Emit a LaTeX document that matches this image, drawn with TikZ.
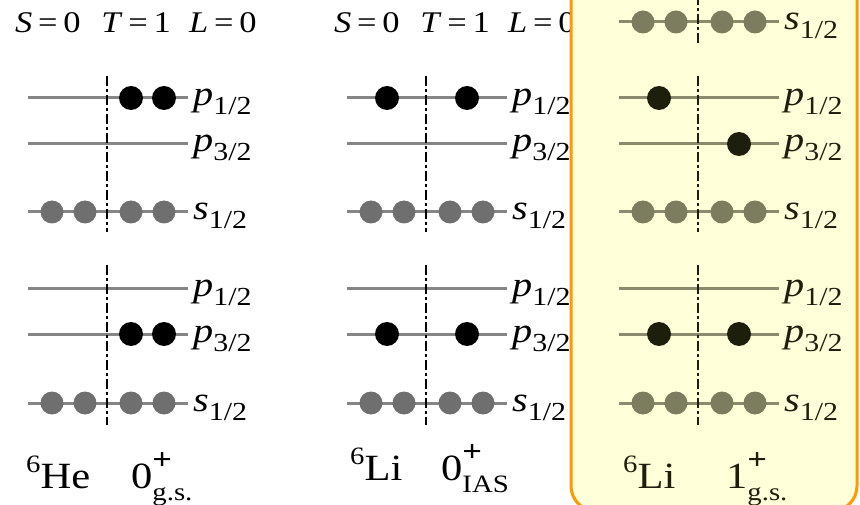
\documentclass[tikz,border=0pt]{standalone}
\usepackage{fontspec}
\setmainfont{Liberation Serif}
\usetikzlibrary{positioning}
\definecolor{Level}{HTML}{858585}
\definecolor{Core}{HTML}{6F6F6F}
\definecolor{Pale}{HTML}{FFFFD9}
\definecolor{Frame}{HTML}{FF9900}
\definecolor{OLevel}{HTML}{8A8A6C}
\definecolor{OCore}{HTML}{7C7C5E}
\definecolor{OVal}{HTML}{1E1E0C}
\newcommand{\wide}[1]{\scalebox{1.15}[1]{#1}}
\newcommand{\orbital}[2]{\wide{\textit{#1}\raisebox{-9pt}{\fontsize{26}{26}\selectfont #2}}}
\newcommand{\nucl}[2]{\wide{\raisebox{16pt}{\fontsize{25}{25}\selectfont #1}#2}}
\newcommand{\spinstate}[3]{\wide{#1\rlap{\raisebox{19pt}{\fontsize{30}{30}\selectfont\bfseries #2}}\raisebox{-12pt}{\fontsize{25}{25}\selectfont #3}}}
\newcommand{\stl}{\wide{\textit{S}\,=\,0\hskip18pt\textit{T}\,=\,1\hskip16pt\textit{L}\,=\,0}}
% one level: split x, y, orbital label, node name
\newcommand{\shell}[4]{\draw[level] (#1-79,#2) -- (#1+81,#2);
  \node[orb] (#4) at (#1+86,#2+8) {#3};}
% four filled s-shell dots
\newcommand{\sfill}[2]{\foreach \dx in {-55,-22,24,57} \fill[core] (#1+\dx,#2) circle (11.5);}

\begin{document}
\begin{tikzpicture}[x=1pt,y=-1pt,
  level/.style={draw=Level,line width=3pt},
  split/.style={draw=black,line width=2.8pt,dash pattern=on 10pt off 3pt on 3pt off 3pt},
  core/.style={fill=Core},
  val/.style={fill=black},
  orb/.style={anchor=base west,inner sep=0pt,font=\fontsize{35}{35}\selectfont},
  quantum/.style={anchor=base west,inner sep=0pt,font=\fontsize{30}{30}\selectfont},
  nucleus/.style={anchor=base west,inner sep=0pt,font=\fontsize{37}{37}\selectfont}]
\useasboundingbox (0,0) rectangle (860,505);
\clip (0,0) rectangle (860,505);

% 6He ground state
\node[quantum] (he-stl) at (15,33) {\stl};
\shell{107}{98}{\orbital{p}{1/2}}{he-p1}
\shell{107}{144}{\orbital{p}{3/2}}{he-p3}
\shell{107}{212}{\orbital{s}{1/2}}{he-s1}
\shell{107}{289}{\orbital{p}{1/2}}{he-p1b}
\shell{107}{334}{\orbital{p}{3/2}}{he-p3b}
\shell{107}{403}{\orbital{s}{1/2}}{he-s1b}
\draw[split] (107,76) -- (107,232);
\draw[split] (107,265) -- (107,425);
\sfill{107}{212}
\sfill{107}{403}
\fill[val] (131,98) circle (12);
\fill[val] (164,98) circle (12);
\fill[val] (131,334) circle (12);
\fill[val] (164,334) circle (12);
\node[nucleus] (he-name) at (26,488) {\nucl{6}{He}};
\node[nucleus] (he-state) at (131,488) {\spinstate{0}{+}{g.s.}};

% 6Li isobaric analogue state
\node[quantum] (ias-stl) at (334,33) {\stl};
\shell{426}{98}{\orbital{p}{1/2}}{ias-p1}
\shell{426}{144}{\orbital{p}{3/2}}{ias-p3}
\shell{426}{212}{\orbital{s}{1/2}}{ias-s1}
\shell{426}{289}{\orbital{p}{1/2}}{ias-p1b}
\shell{426}{334}{\orbital{p}{3/2}}{ias-p3b}
\shell{426}{403}{\orbital{s}{1/2}}{ias-s1b}
\draw[split] (426,76) -- (426,232);
\draw[split] (426,265) -- (426,425);
\sfill{426}{212}
\sfill{426}{403}
\fill[val] (387,98) circle (12);
\fill[val] (467,98) circle (12);
\fill[val] (387,334) circle (12);
\fill[val] (467,334) circle (12);
\node[nucleus] (ias-name) at (350,480) {\nucl{6}{Li}};
\node[nucleus] (ias-state) at (441,480) {\spinstate{0}{+}{IAS}};

% highlighted 6Li ground state
\draw[draw=Frame,fill=Pale,line width=3pt,rounded corners=25pt] (571,-40) rectangle (857,511);
\begin{scope}[level/.style={draw=OLevel,line width=3pt},
  split/.style={draw=OVal,line width=2.8pt,dash pattern=on 10pt off 3pt on 3pt off 3pt},
  core/.style={fill=OCore},val/.style={fill=OVal},
  orb/.style={anchor=base west,inner sep=0pt,text=OVal,font=\fontsize{35}{35}\selectfont},
  nucleus/.style={anchor=base west,inner sep=0pt,text=OVal,font=\fontsize{37}{37}\selectfont}]
\shell{698}{22}{\orbital{s}{1/2}}{gs-s0}
\shell{698}{98}{\orbital{p}{1/2}}{gs-p1}
\shell{698}{144}{\orbital{p}{3/2}}{gs-p3}
\shell{698}{212}{\orbital{s}{1/2}}{gs-s1}
\shell{698}{289}{\orbital{p}{1/2}}{gs-p1b}
\shell{698}{334}{\orbital{p}{3/2}}{gs-p3b}
\shell{698}{403}{\orbital{s}{1/2}}{gs-s1b}
\draw[split] (698,-5) -- (698,45);
\draw[split] (698,76) -- (698,232);
\draw[split] (698,265) -- (698,425);
\sfill{698}{22}
\sfill{698}{212}
\sfill{698}{403}
\fill[val] (659,98) circle (12);
\fill[val] (739,144) circle (12);
\fill[val] (659,334) circle (12);
\fill[val] (739,334) circle (12);
\node[nucleus] (gs-name) at (623,488) {\nucl{6}{Li}};
\node[nucleus] (gs-state) at (726,488) {\spinstate{1}{+}{g.s.}};
\end{scope}
\end{tikzpicture}
\end{document}
